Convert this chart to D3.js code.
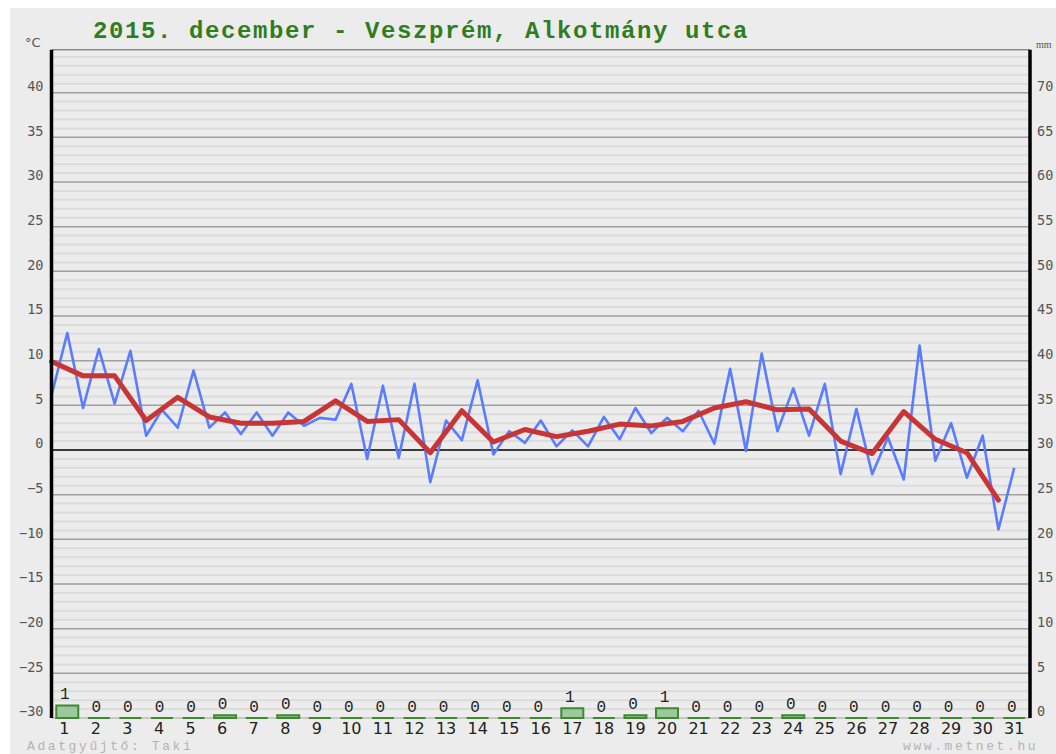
<!DOCTYPE html>
<html><head><meta charset="utf-8">
<script src="https://cdn.jsdelivr.net/npm/d3@7"></script>
<style>body{margin:0;background:#fff}</style>
</head><body><svg id="c" width="1056" height="754"></svg>
<script>
const days = d3.range(1, 32);
const tMin = [6.1, 4.7, 5.2, 1.6, 2.5, 2.5, 1.8, 1.6, 2.7, 3.4, -1.0, -0.9, -3.6, 1.1, -0.5, 0.8, 0.4, 0.4, 1.2, 1.9, 2.1, 0.7, -0.1, 2.1, 1.6, -2.7, -2.7, -3.3, -1.2, -3.1, -8.9];
const tMax = [13.1, 11.3, 11.1, 4.5, 8.9, 4.2, 4.2, 4.2, 3.6, 7.4, 7.2, 7.4, 3.3, 7.8, 2.1, 3.3, 2.2, 3.7, 4.7, 3.6, 4.4, 9.1, 10.8, 6.9, 7.4, 4.6, 1.4, 11.7, 3.0, 1.6, -2.0];
const tAvg = [9.9, 8.3, 8.3, 3.3, 5.9, 3.7, 3.0, 3.0, 3.2, 5.5, 3.2, 3.4, -0.3, 4.4, 0.9, 2.3, 1.5, 2.1, 2.9, 2.7, 3.2, 4.7, 5.4, 4.5, 4.6, 1.0, -0.4, 4.3, 1.2, -0.3, -5.6];
const precip = [1.4, 0, 0, 0, 0, 0.3, 0, 0.3, 0, 0, 0, 0, 0, 0, 0, 0, 1.1, 0, 0.3, 1.1, 0, 0, 0, 0.3, 0, 0, 0, 0, 0, 0, 0];
const tempTicks = d3.range(-30, 45, 5);
const mmTicks = d3.range(0, 75, 5);
const minorTicks = d3.range(-29, 45).filter(v => v % 5 !== 0);
const titleText = "2015. december - Veszprém, Alkotmány utca";
const collector = "Adatgyűjtő: Taki";
const site = "www.metnet.hu";

const svg = d3.select("#c");
const x = d3.scaleBand().domain(days).range([51.5, 1030]).paddingInner(0).paddingOuter(0);
const bw = x.bandwidth();
const y = d3.scaleLinear().domain([-30, 45]).range([718, 48]);
const yR = d3.scaleLinear().domain([0, 75]).range([718, 48]);

svg.append("rect").attr("x", 10).attr("y", 8).attr("width", 1046).attr("height", 746).attr("fill", "#ececec");

// minor grid
svg.append("g").selectAll("line").data(minorTicks).join("line")
  .attr("x1", 52).attr("x2", 1030).attr("y1", d => y(d)).attr("y2", d => y(d))
  .attr("stroke", "#dcdcdc").attr("stroke-width", 2);
// major grid
svg.append("g").selectAll("line").data(tempTicks.filter(v => v !== 0 && v !== -30)).join("line")
  .attr("x1", 52).attr("x2", 1030).attr("y1", d => y(d)).attr("y2", d => y(d))
  .attr("stroke", "#a0a0a0").attr("stroke-width", 1.5);
// top border
svg.append("line").attr("x1", 52).attr("x2", 1030).attr("y1", y(44.8)).attr("y2", y(44.8))
  .attr("stroke", "#8a8a8a").attr("stroke-width", 1.5);
// bottom line
svg.append("line").attr("x1", 52).attr("x2", 1030).attr("y1", y(-30)).attr("y2", y(-30))
  .attr("stroke", "#bbbbbb").attr("stroke-width", 1.5);
// zero line
svg.append("line").attr("x1", 52).attr("x2", 1030).attr("y1", y(0)).attr("y2", y(0))
  .attr("stroke", "#000").attr("stroke-width", 1.5);

// precipitation bars
const barW = 22;
const barG = svg.append("g");
barG.selectAll("path").data(days).join("path")
  .attr("d", (d, i) => {
    const x0 = x(d) + (bw - barW) / 2, y0 = yR(0), y1 = yR(precip[i]);
    return `M${x0},${y0}H${x0 + barW}V${y1}H${x0}Z`;
  })
  .attr("fill", "#9dc79d").attr("stroke", "#3c8a2c").attr("stroke-width", 2);
barG.selectAll("text").data(days).join("text")
  .attr("x", d => x(d) + bw / 2 - 2.5)
  .attr("y", (d, i) => yR(precip[i]) - 6)
  .attr("text-anchor", "middle")
  .attr("font-family", "Liberation Mono, monospace").attr("font-size", 16).attr("fill", "#222")
  .text((d, i) => d3.format(".0f")(precip[i]));

// blue min/max zigzag
const blue = [];
days.forEach((d, i) => { blue.push([x(d), tMin[i]]); blue.push([x(d) + bw / 2, tMax[i]]); });
svg.append("path").datum(blue)
  .attr("d", d3.line().x(p => p[0]).y(p => y(p[1])))
  .attr("fill", "none").attr("stroke", "#5a7cff").attr("stroke-width", 2.6).attr("stroke-linejoin", "round");

// red average
svg.append("path").datum(days)
  .attr("d", d3.line().x(d => x(d)).y((d, i) => y(tAvg[i])))
  .attr("fill", "none").attr("stroke", "#c93434").attr("stroke-width", 5).attr("stroke-linejoin", "round").attr("stroke-linecap", "round");

// left axis
const axL = svg.append("g").attr("transform", "translate(51.5,0)")
  .call(d3.axisLeft(y).tickValues(tempTicks).tickSize(0).tickPadding(8).tickSizeOuter(0));
axL.select(".domain").attr("stroke", "#000").attr("stroke-width", 3.5).attr("d", `M0,${y(44.8)}V${y(-30)}`);
axL.selectAll("text").attr("font-family", "DejaVu Sans Mono, monospace").attr("font-size", 13.5).attr("fill", "#555").attr("dy", "-0.15em");

// right axis
const axR = svg.append("g").attr("transform", "translate(1030,0)")
  .call(d3.axisRight(yR).tickValues(mmTicks).tickSize(0).tickPadding(7).tickSizeOuter(0));
axR.select(".domain").attr("stroke", "#000").attr("stroke-width", 3.5).attr("d", `M0,${y(44.8)}V${y(-30)}`);
axR.selectAll("text").attr("font-family", "DejaVu Sans Mono, monospace").attr("font-size", 13.5).attr("fill", "#555").attr("dy", "-0.15em");

// bottom axis
const axB = svg.append("g").attr("transform", `translate(0,${y(-30)})`)
  .call(d3.axisBottom(x).tickSize(0).tickPadding(5));
axB.select(".domain").remove();
axB.selectAll("text").attr("font-family", "DejaVu Sans, sans-serif").attr("font-size", 16).attr("fill", "#222")
  .attr("dx", d => d < 10 ? -3 : 0);

// units
svg.append("text").attr("x", 25).attr("y", 47).attr("font-family", "DejaVu Sans, sans-serif").attr("font-size", 13).attr("fill", "#555").text("°C");
svg.append("text").attr("x", 1036).attr("y", 48).attr("font-family", "Liberation Serif, serif").attr("font-size", 10).attr("fill", "#555").text("mm");

// title
svg.append("text").attr("x", 93).attr("y", 38).attr("font-family", "Liberation Mono, monospace").attr("font-weight", "bold")
  .attr("font-size", 24).attr("letter-spacing", 1.6).attr("fill", "#2f7d1f").text(titleText);

// footers
svg.append("text").attr("x", 27).attr("y", 750).attr("font-family", "Liberation Mono, monospace").attr("font-size", 13)
  .attr("letter-spacing", 2.6).attr("fill", "#b3b3b3").text(collector);
svg.append("text").attr("x", 903).attr("y", 750).attr("font-family", "Liberation Mono, monospace").attr("font-size", 13)
  .attr("letter-spacing", 2.6).attr("fill", "#b3b3b3").text(site);
</script>
</body></html>
